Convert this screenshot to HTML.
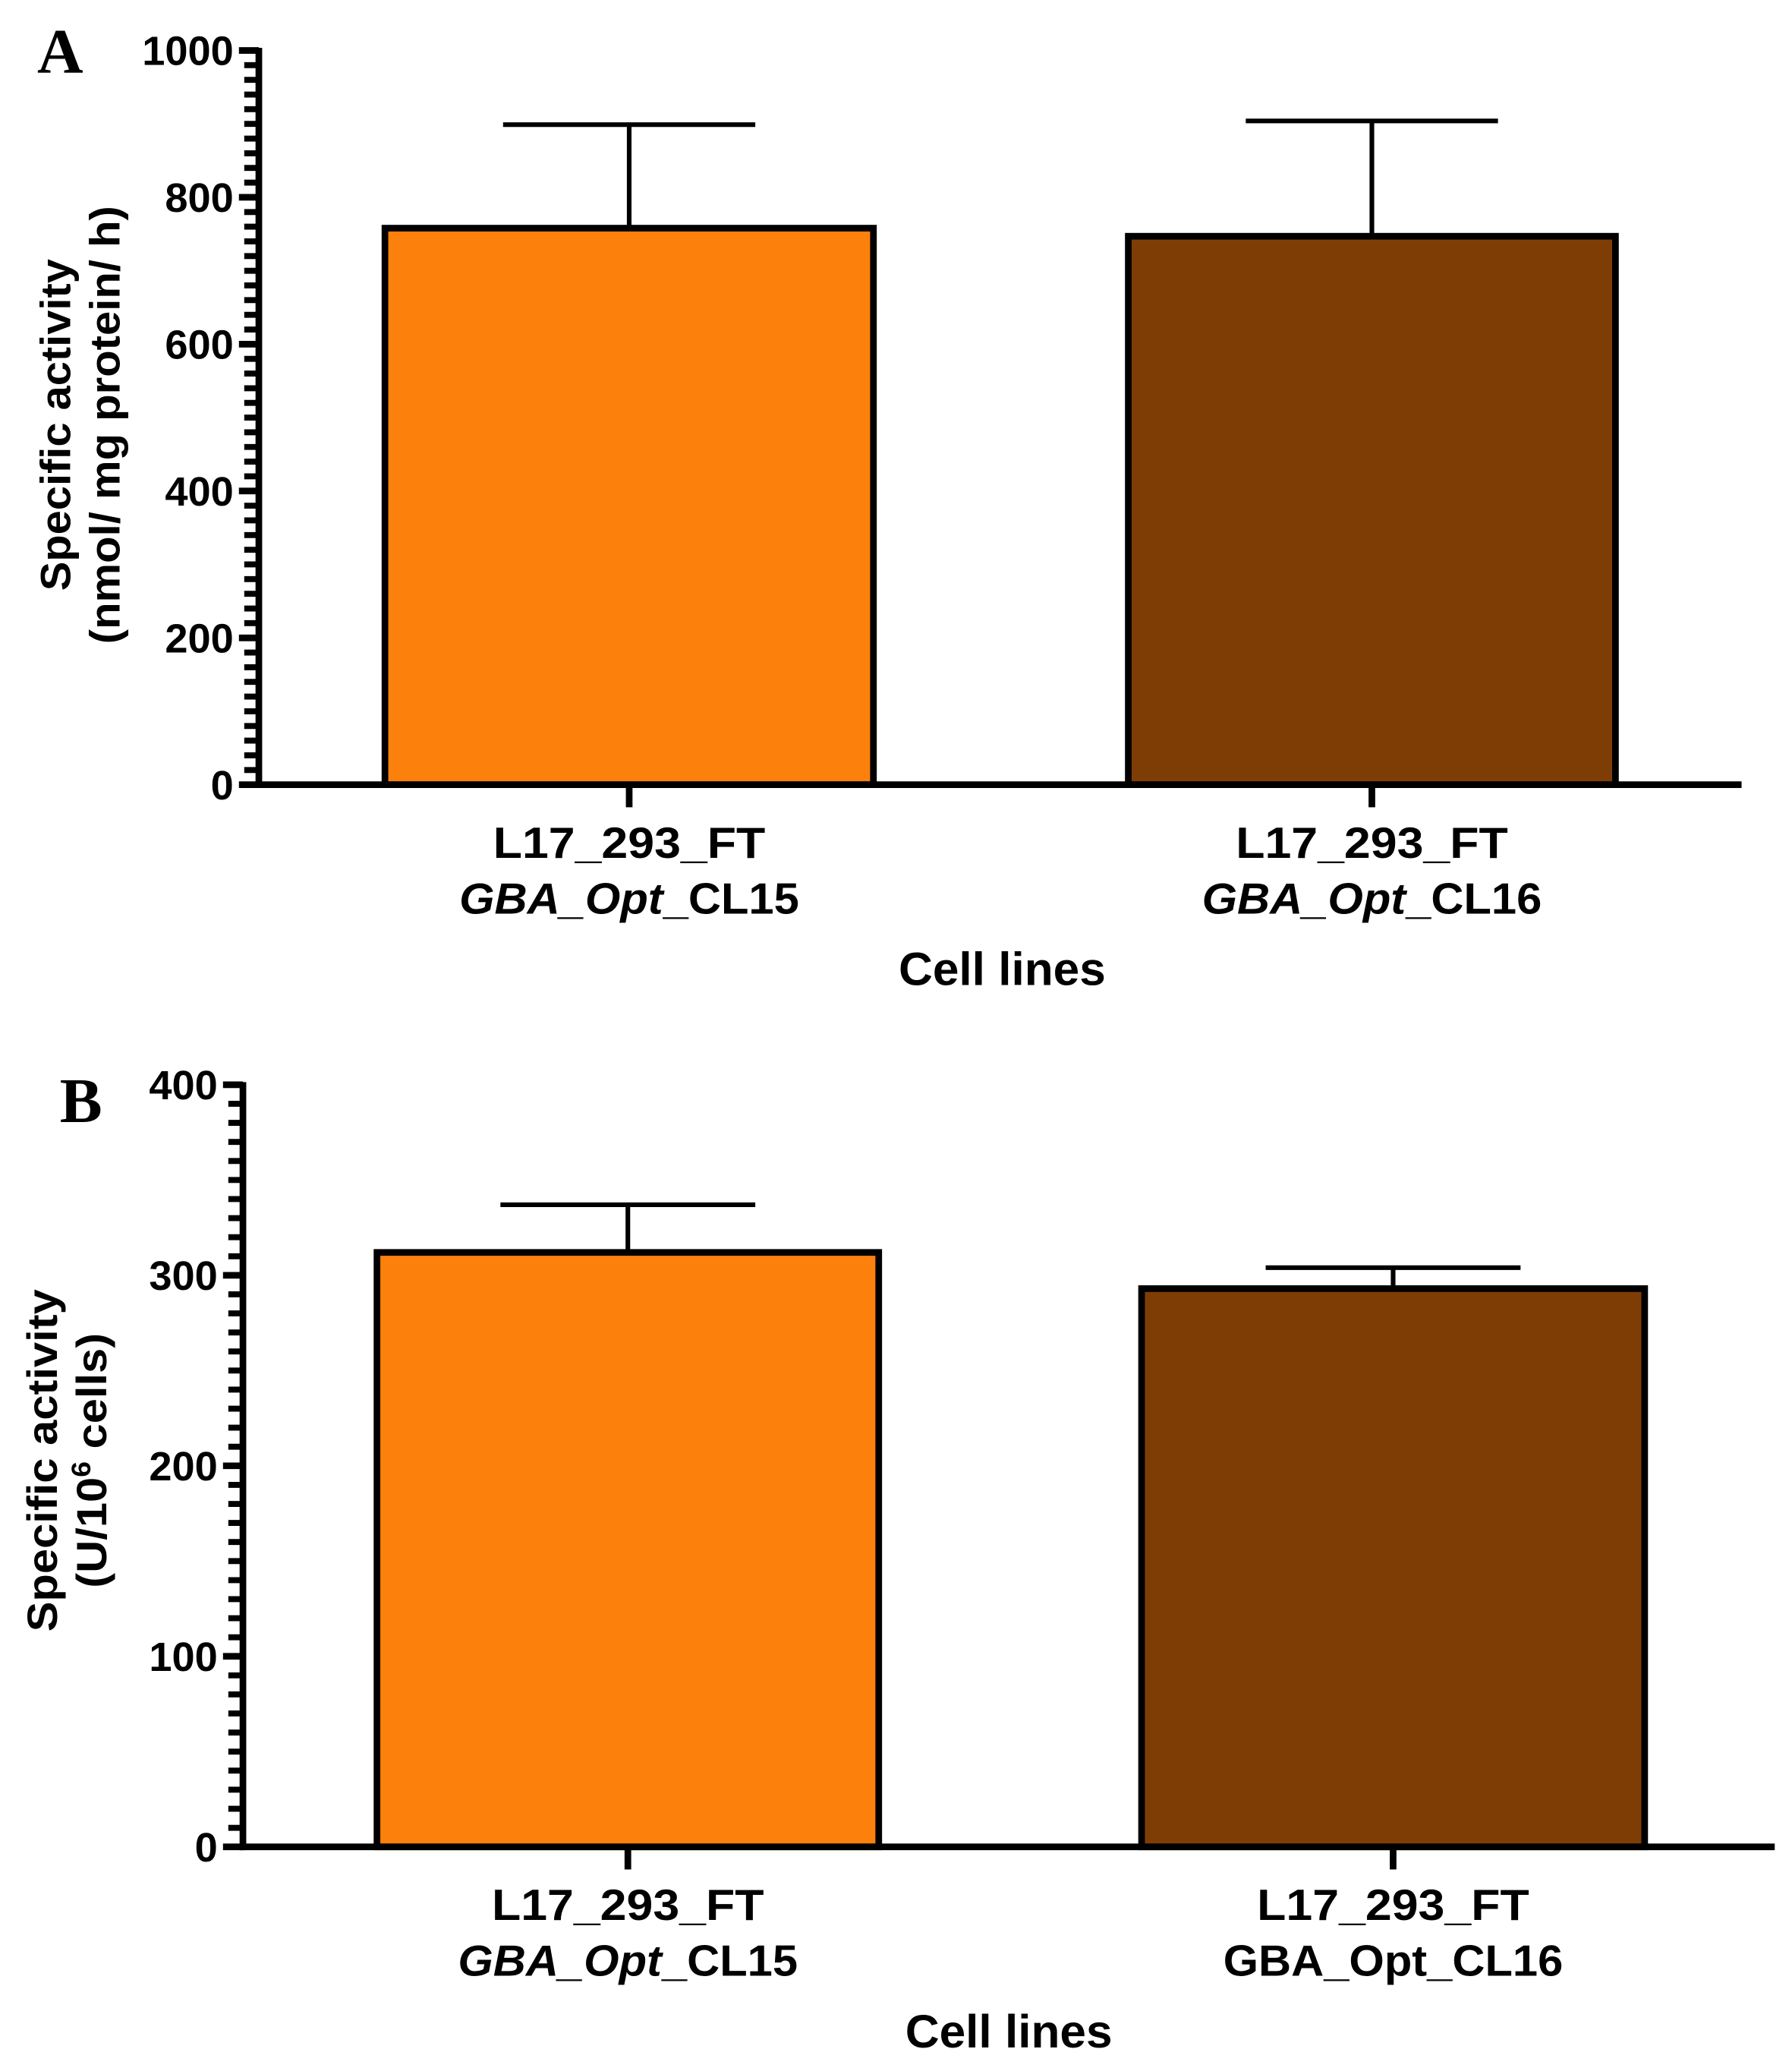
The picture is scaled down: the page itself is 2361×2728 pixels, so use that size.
<!DOCTYPE html>
<html><head><meta charset="utf-8"><style>
html,body{margin:0;padding:0;background:#fff}
svg{display:block}
text{font-family:"Liberation Sans",Arial,sans-serif;font-weight:bold;fill:#000}
</style></head><body>
<svg id="fig" width="2361" height="2728" viewBox="0 0 1350 1559.8" xmlns="http://www.w3.org/2000/svg"></svg>
<script>
// Panel A data
const catsA = ["CL15", "CL16"];
const valuesA = [758, 747];
const errorsA = [899, 904];
const ticksA = [0, 200, 400, 600, 800, 1000];
// Panel B data
const catsB = ["CL15", "CL16"];
const valuesB = [312, 293];
const errorsB = [337, 304];
const ticksB = [0, 100, 200, 300, 400];
const colors = ["#FC800C", "#7F3D06"];

const NS = "http://www.w3.org/2000/svg";
const svg = document.getElementById('fig');
function mk(tag, attrs, parent) {
  const e = document.createElementNS(NS, tag);
  for (const k in attrs) e.setAttribute(k, attrs[k]);
  (parent || svg).appendChild(e);
  return e;
}

function panel(cfg) {
  const g = mk('g', {});
  
  
  const y = v => cfg.y0 - (v - cfg.min) / (cfg.max - cfg.min) * (cfg.y0 - cfg.y1);
  for (let v = cfg.min; v <= cfg.max + 1e-9; v += cfg.minor) {
    const t = mk('line', {x1: cfg.ax - 11, x2: cfg.ax, y1: y(v), y2: y(v), stroke: '#000', 'stroke-width': 4.5}, g);
    
    
  }
  cfg.ticks.forEach(v => {
    const t = mk('line', {x1: cfg.ax - 15, x2: cfg.ax, y1: y(v), y2: y(v), stroke: '#000', 'stroke-width': 5}, g);
    
    
    const l = mk('text', {x: cfg.ax - 19, y: y(v) + 11, 'text-anchor': 'end', 'font-size': 31}, g);
    l.textContent = v;
    
    
  });
  cfg.values.forEach((v, i) => {
    const b = cfg.bars[i];
    const cx = (b[0] + b[1]) / 2;
    const eb = mk('line', {x1: cx, x2: cx, y1: y(v), y2: y(cfg.errors[i]), stroke: '#000', 'stroke-width': 3.5}, g);
    
    
    const cap = mk('line', {x1: cx - cfg.cap, x2: cx + cfg.cap, y1: y(cfg.errors[i]), y2: y(cfg.errors[i]), stroke: '#000', 'stroke-width': 3.5}, g);
    
    
    const r = mk('rect', {x: b[0], y: y(v), width: b[1] - b[0], height: y(cfg.min) - y(v), fill: colors[i], stroke: '#000', 'stroke-width': 5}, g);
    
    
    const ct = mk('line', {x1: cx, x2: cx, y1: cfg.y0, y2: cfg.y0 + 17, stroke: '#000', 'stroke-width': 5}, g);
    
    
    const l1 = mk('text', {x: cx, y: cfg.y0 + 55, 'text-anchor': 'middle', 'font-size': 33, textLength: 205, lengthAdjust: 'spacingAndGlyphs'}, g);
    l1.textContent = 'L17_293_FT';
    
    
    const l2 = mk('text', {x: cx, y: cfg.y0 + 97, 'text-anchor': 'middle', 'font-size': 33, textLength: 256, lengthAdjust: 'spacingAndGlyphs'}, g);
    
    
    if (cfg.italic[i]) {
      l2.innerHTML = '<tspan font-style="italic">GBA_Opt</tspan>_' + cfg.cats[i];
    } else {
      l2.textContent = 'GBA_Opt_' + cfg.cats[i];
    }
  });
  const ya = mk('line', {x1: cfg.ax, x2: cfg.ax, y1: cfg.y1 - 2, y2: cfg.y0 + 2.5, stroke: '#000', 'stroke-width': 5}, g);
  
  
  const xa = mk('line', {x1: cfg.ax - 2.5, x2: cfg.xend, y1: cfg.y0, y2: cfg.y0, stroke: '#000', 'stroke-width': 5}, g);
  
  
  const xt = mk('text', {x: cfg.xtx, y: cfg.y0 + 151, 'text-anchor': 'middle', 'font-size': 35, textLength: 156, lengthAdjust: 'spacingAndGlyphs'}, g);
  xt.textContent = 'Cell lines';
  
  
  const yt = mk('text', {transform: `translate(${cfg.ytx},${cfg.yty}) rotate(-90)`, 'text-anchor': 'middle', 'font-size': 32}, g);
  
  
  yt.innerHTML = `<tspan x="0" y="0" textLength="${cfg.yl1}" lengthAdjust="spacingAndGlyphs">Specific activity</tspan><tspan x="0" y="37" textLength="${cfg.yl2}" lengthAdjust="spacingAndGlyphs">${cfg.yt2}</tspan>`;
  const pl = mk('text', {x: cfg.px, y: cfg.py, 'font-size': 48, style: 'font-family:"Liberation Serif",serif'}, g);
  pl.textContent = cfg.letter;
  
  
}

panel({name: 'panel-a', letter: 'A', px: 28, py: 55, min: 0, max: 1000, minor: 20, ticks: ticksA,
  values: valuesA, errors: errorsA, cats: catsA, italic: [true, true],
  ax: 195, y0: 591, y1: 38, xend: 1312, bars: [[290, 658], [850, 1217]], cap: 95,
  xtx: 755, ytx: 53, yty: 320, yl1: 250, yl2: 330, yt2: '(nmol/ mg protein/ h)'});
panel({name: 'panel-b', letter: 'B', px: 45, py: 845, min: 0, max: 400, minor: 10, ticks: ticksB,
  values: valuesB, errors: errorsB, cats: catsB, italic: [true, false],
  ax: 183, y0: 1391, y1: 817, xend: 1337, bars: [[284, 662], [860, 1239]], cap: 96,
  xtx: 760, ytx: 43, yty: 1100, yl1: 258, yl2: 192, yt2: '(U/10<tspan dy="-12" font-size="20">6</tspan><tspan dy="12"> cells)</tspan>'});
</script>
</body></html>
